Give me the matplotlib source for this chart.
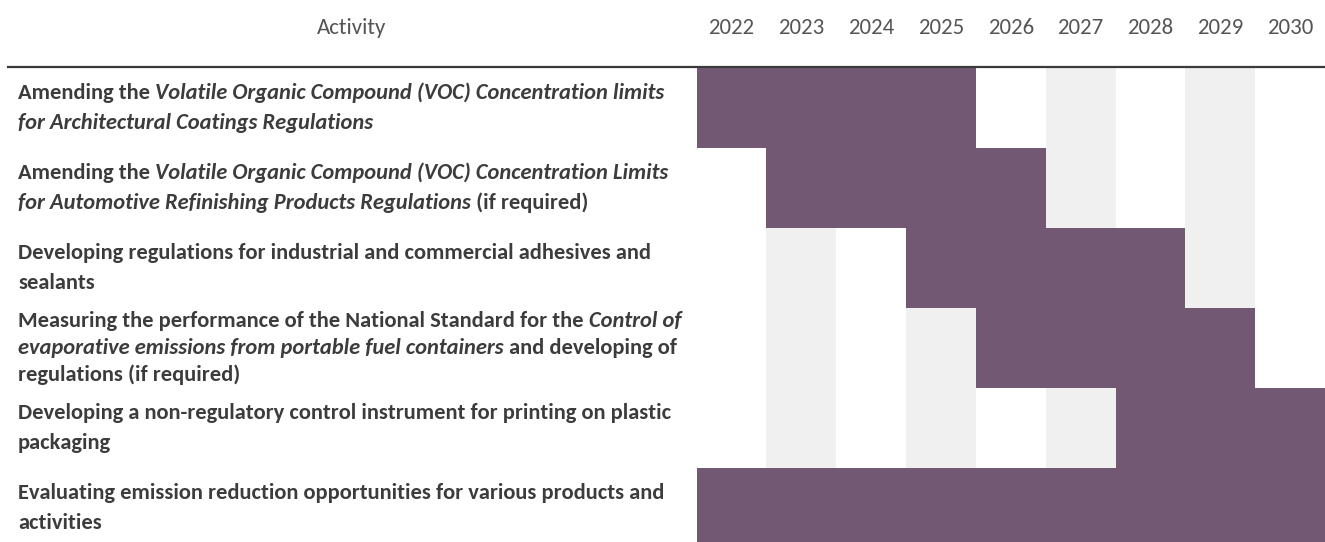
import matplotlib
matplotlib.use("Agg")
import matplotlib.pyplot as plt
from matplotlib import transforms

# data
years = [2022, 2023, 2024, 2025, 2026, 2027, 2028, 2029, 2030]
shaded_years = [2023, 2025, 2027, 2029]
start_year = [2022, 2023, 2025, 2026, 2028, 2022]
end_year = [2025, 2026, 2028, 2029, 2030, 2030]
# each activity: list of lines, each line a list of (text, italic)
activities = [
    [[("Amending the ", False), ("Volatile Organic Compound (VOC) Concentration limits", True)],
     [("for Architectural Coatings Regulations", True)]],
    [[("Amending the ", False), ("Volatile Organic Compound (VOC) Concentration Limits", True)],
     [("for Automotive Refinishing Products Regulations", True), (" (if required)", False)]],
    [[("Developing regulations for industrial and commercial adhesives and", False)],
     [("sealants", False)]],
    [[("Measuring the performance of the National Standard for the ", False), ("Control of", True)],
     [("evaporative emissions from portable fuel containers", True), (" and developing of", False)],
     [("regulations (if required)", False)]],
    [[("Developing a non-regulatory control instrument for printing on plastic", False)],
     [("packaging", False)]],
    [[("Evaluating emission reduction opportunities for various products and", False)],
     [("activities", False)]],
]

bar_color = "#725872"
shade_color = "#f0f0f0"
text_color = "#3c3c3c"
head_color = "#555555"
fam = ["Carlito", "DejaVu Sans"]
fs = 16.2

W, H = 1325, 542
fig = plt.figure(figsize=(W / 100, H / 100), dpi=100)
fig.patch.set_facecolor("white")

n = len(activities)
row_px = 80.0
top_px = 68.0
ax_h = H - top_px
ax = fig.add_axes([696.5 / W, 0, 1 - 696.5 / W, ax_h / H])
ax.set_xlim(years[0] - 0.5, years[-1] + 0.5)
ax.set_ylim(ax_h / row_px, 0)
ax.axis("off")

for y in shaded_years:
    ax.axvspan(y - 0.5, y + 0.5, color=shade_color, lw=0, zorder=0)

for i in range(n):
    ax.barh(i + 0.5, end_year[i] - start_year[i] + 1, left=start_year[i] - 0.5,
            height=1.0, color=bar_color, lw=0, zorder=2)

# header
for y in years:
    ax.text(y, -40.0 / row_px, str(y), ha="center", va="center", fontsize=16.5,
            color=head_color, family=fam, clip_on=False)
fig.text(352 / W, 1 - 28 / H, "Activity", ha="center", va="center", fontsize=16.5,
         color=head_color, family=fam)
fig.add_artist(plt.Line2D([8 / W, 1], [1 - 67 / H, 1 - 67 / H], color="#3a3a3a", lw=1.6))

# activity labels, built run by run so italics can be mixed in
renderer = fig.canvas.get_renderer()
base = transforms.blended_transform_factory(fig.transFigure, ax.transData)
for i, lines in enumerate(activities):
    gap = 27.0 if len(lines) > 2 else 30.0
    for j, runs in enumerate(lines):
        yc = i + 0.5 + (j - (len(lines) - 1) / 2) * gap / row_px
        cursor = 0.0
        for txt, it in runs:
            tr = transforms.offset_copy(base, fig=fig, x=cursor, y=0, units="dots")
            t = fig.text(18 / W, yc, txt, transform=tr, ha="left", va="center",
                         fontsize=fs, fontweight="bold", style="italic" if it else "normal",
                         color=text_color, family=fam)
            cursor += t.get_window_extent(renderer).width

fig.savefig("out.png", dpi=100)
